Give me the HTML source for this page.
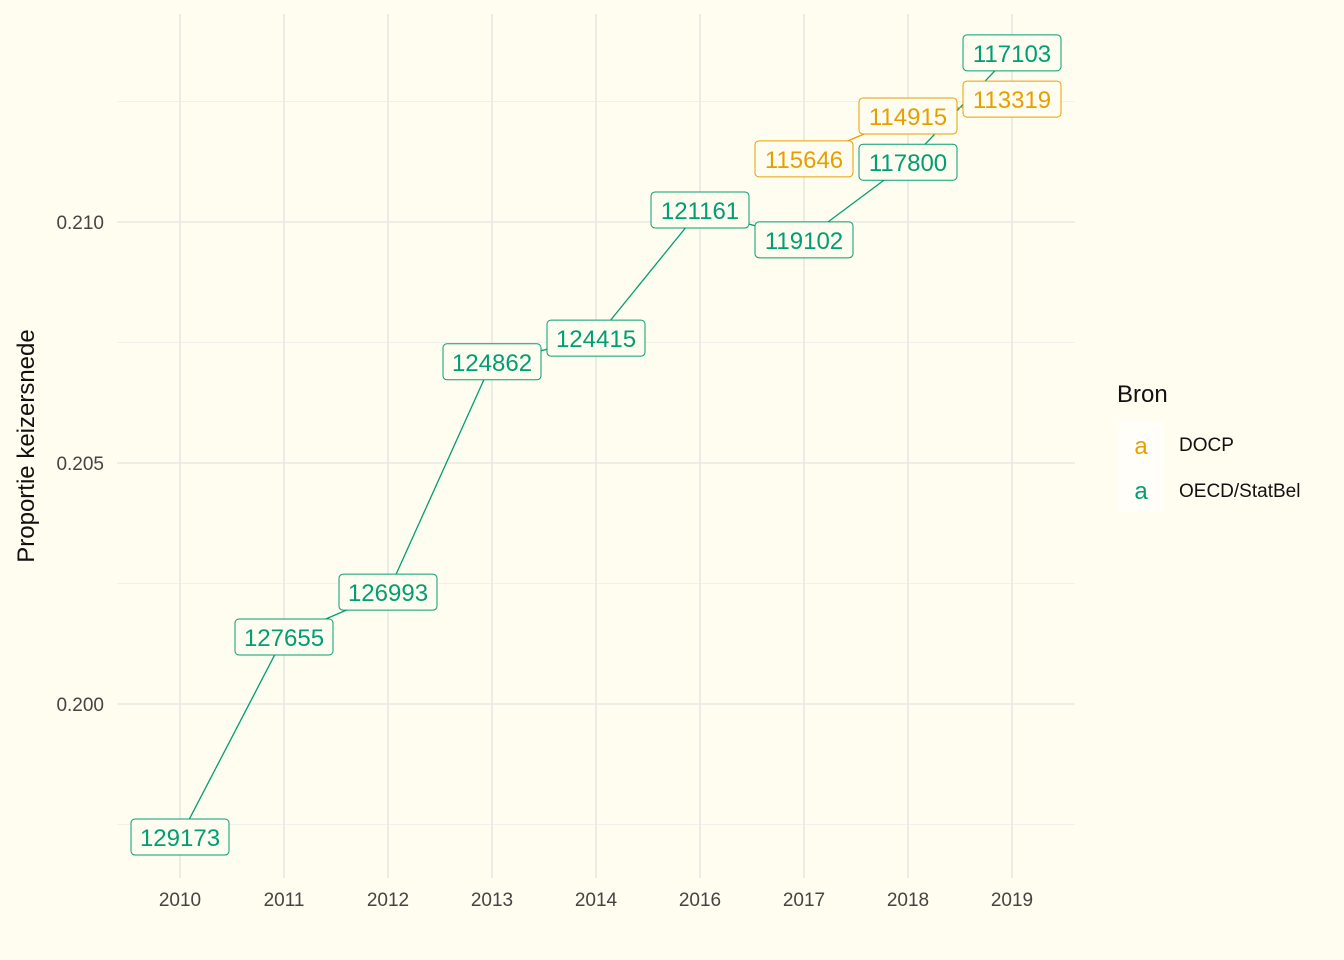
<!DOCTYPE html>
<html><head><meta charset="utf-8"><style>
body{margin:0;background:#fffcf0;}
svg{display:block;font-family:"Liberation Sans",sans-serif;}
</style></head><body>
<svg id="chart" width="1344" height="960">
<rect width="1344" height="960" fill="#fffcf0"/>
<g id="grid"></g><g id="lines"></g><g id="labels"></g><g id="axes"></g>
<text x="34" y="446" transform="rotate(-90 34 446)" text-anchor="middle" font-size="24" fill="#111">Proportie keizersnede</text>
<g>
<text x="1117" y="402" font-size="24" fill="#111">Bron</text>
<rect x="1118" y="422" width="46" height="46" fill="#fffef8"/>
<text x="1141" y="454" text-anchor="middle" font-size="24" fill="#E69F00">a</text>
<text x="1179" y="451" font-size="19" fill="#111">DOCP</text>
<rect x="1118" y="468" width="46" height="44" fill="#fffef8"/>
<text x="1141" y="499" text-anchor="middle" font-size="24" fill="#009E73">a</text>
<text x="1179" y="497" font-size="19" fill="#111">OECD/StatBel</text>
</g>
</svg>
<script>
const categories=["2010","2011","2012","2013","2014","2016","2017","2018","2019"];
const oecdYears=["2010","2011","2012","2013","2014","2016","2017","2018","2019"];
const oecdValues=[0.19724,0.20139,0.20232,0.20710,0.20759,0.21025,0.20963,0.21124,0.21351];
const oecdLabels=["129173","127655","126993","124862","124415","121161","119102","117800","117103"];
const docpYears=["2017","2018","2019"];
const docpValues=[0.21131,0.21220,0.21255];
const docpLabels=["115646","114915","113319"];
const yTicks=[0.200,0.205,0.210];
const yTickLabels=["0.200","0.205","0.210"];
const NS="http://www.w3.org/2000/svg";
const x=c=>180+categories.indexOf(c)*104;
const y=v=>704-(v-0.200)*48200;
function mk(tag,attrs,parent){const e=document.createElementNS(NS,tag);for(const k in attrs)e.setAttribute(k,attrs[k]);document.getElementById(parent).appendChild(e);return e;}
// grid
for(let v=0.1975;v<=0.2126;v+=0.0025){const g=mk('line',{x1:117,x2:1075,y1:y(v),y2:y(v),stroke:Math.abs((v*1000)%5)<0.01||Math.abs((v*1000)%5-5)<0.01?'#e8e8e3':'#f1f0ea','stroke-width':Math.round(v*10000)%50===0?1.6:1},'grid');

}
categories.forEach(c=>{const g=mk('line',{x1:x(c),x2:x(c),y1:14,y2:878,stroke:'#e8e8e3','stroke-width':1.6},'grid');


const t=mk('text',{x:x(c),y:906,'text-anchor':'middle','font-size':19,fill:'#444'},'axes');t.textContent=c;

});
yTicks.forEach((v,i)=>{const t=mk('text',{x:104,y:y(v)+7,'text-anchor':'end','font-size':19,fill:'#444'},'axes');t.textContent=yTickLabels[i];

});
function series(years,vals,labels,color,name){
const p=mk('polyline',{points:years.map((c,i)=>x(c)+','+y(vals[i])).join(' '),fill:'none',stroke:color,'stroke-width':1.3},'lines');


years.forEach((c,i)=>{const cx=x(c),cy=y(vals[i]);
const r=mk('rect',{x:cx-49,y:cy-18,width:98,height:36,rx:4,fill:'#fffcf0',stroke:color,'stroke-width':1},'labels');


const t=mk('text',{x:cx,y:cy+9,'text-anchor':'middle','font-size':24,fill:color},'labels');t.textContent=labels[i];

});}
series(oecdYears,oecdValues,oecdLabels,'#009E73','oecd');
series(docpYears,docpValues,docpLabels,'#E69F00','docp');
</script>
</body></html>
